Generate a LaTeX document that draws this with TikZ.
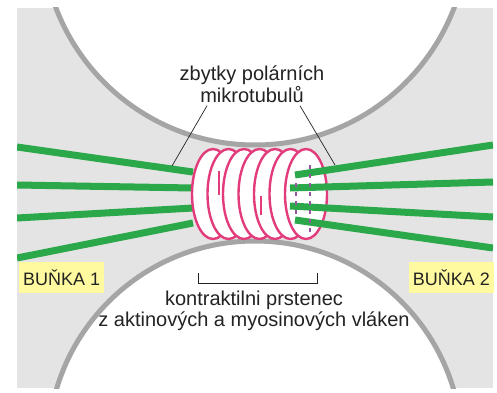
\documentclass[tikz,border=0pt]{standalone}
\usepackage{fontspec}
\setmainfont{Liberation Sans}
\usetikzlibrary{positioning}

\definecolor{pozadi}{RGB}{228,228,228}
\definecolor{membrana}{RGB}{165,165,165}
\definecolor{tubulin}{RGB}{42,168,74}
\definecolor{aktin}{RGB}{226,60,125}
\definecolor{zadni}{RGB}{150,85,160}
\definecolor{popisek}{RGB}{255,249,160}
\definecolor{pismo}{RGB}{35,35,35}

\begin{document}
\begin{tikzpicture}[x=1pt, y=1pt,
        mikrotubul/.style = {line width=7pt, tubulin},
        smycka/.style = {draw=aktin, fill=white, line width=2.4pt},
        ukazatel/.style = {draw=pismo, line width=0.7pt},
        bunka/.style = {fill=popisek, text=pismo, inner xsep=4pt, minimum height=31pt,
            font=\fontsize{18}{20}\selectfont},
        popis/.style = {text=pismo, align=center, font=\fontsize{20}{21.5}\selectfont}]
    \useasboundingbox (0,0) rectangle (497,392);
    \fill[pozadi] (17,4) rectangle (493,384);
    \begin{scope}
        \clip (17,4) rectangle (493,384);
        % obe bunky
        \draw[membrana, line width=5pt, fill=white] (255,460) circle (213);
        \draw[membrana, line width=5pt, fill=white] (255,-56) circle (207);
        % mikrotubuly zleva
        \draw[mikrotubul] (17,245) -- (193,220);
        \draw[mikrotubul] (17,207) -- (193,204);
        \draw[mikrotubul] (17,174) -- (193,184);
        \draw[mikrotubul] (17,134) -- (193,169);
        % prstenec
        \foreach \i in {0,...,6}
            \draw[smycka] ({213+15.5*\i},198) ellipse (21 and 45);
        \draw[aktin, line width=2.4pt] (219,221) -- (219,197);
        \draw[aktin, line width=2.4pt] (261,196) -- (261,177);
        % mikrotubuly zprava
        \draw[mikrotubul] (295,217) -- (493,247);
        \draw[mikrotubul] (290,204) -- (493,210);
        \draw[mikrotubul] (290,186) -- (493,175);
        \draw[mikrotubul] (295,172) -- (493,144);
        \draw[zadni, line width=2pt, dash pattern=on 4pt off 5pt] (310,227) -- (310,160);
        \draw[zadni, line width=2pt, dash pattern=on 4pt off 5pt] (296,209) -- (296,175);
    \end{scope}

    \node[popis] (tubuly) at (252,308) {zbytky polárních\\mikrotubulů};
    \node[popis] (prstenec) at (254,81) {kontraktilni prstenec\\z aktinových a myosinových vláken};
    \coordinate (tubulL) at (172,226);
    \coordinate (tubulP) at (335,227);
    \draw[ukazatel] ([xshift=-45pt]tubuly.south) -- (tubulL);
    \draw[ukazatel] ([xshift=48pt]tubuly.south) -- (tubulP);
    \draw[ukazatel] (198,119) |- (317,109) -- (317,119);

    \node[bunka, anchor=west] (bunka1) at (19,114.5) {BUŇKA 1};
    \node[bunka, anchor=east] (bunka2) at (494,114.5) {BUŇKA 2};
\end{tikzpicture}
\end{document}
